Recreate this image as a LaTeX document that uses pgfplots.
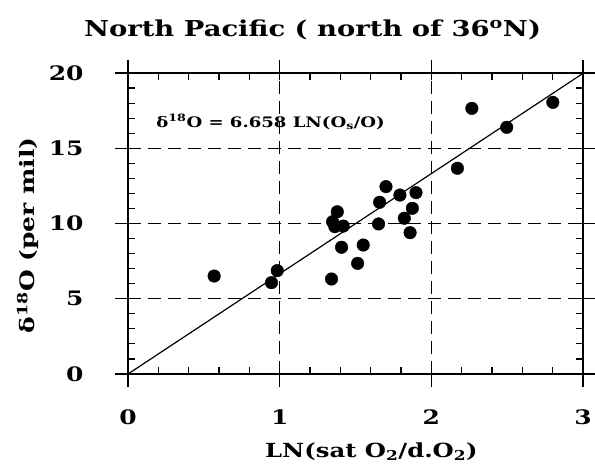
\documentclass[border=0pt]{standalone}
\usepackage{fontspec}
\setmainfont{DejaVu Serif}[BoldFont={DejaVu Serif Bold}, FakeStretch=1.25]
\usepackage{pgfplots}
\pgfplotsset{compat=1.18}

\begin{document}
\begin{tikzpicture}
\path[use as bounding box] (-128bp,-96bp) rectangle (467bp,374bp);
\begin{axis}[
    scale only axis,
    width=455bp, height=301bp,
    xmin=0, xmax=3, ymin=0, ymax=20,
    xtick={0,1,2,3}, ytick={0,5,10,15,20},
    minor x tick num=4, minor y tick num=4,
    tick align=inside,
    major tick length=7bp, minor tick length=7bp,
    every tick/.style={black, line width=1.2pt},
    extra x ticks={0,1,2,3}, extra y ticks={0,5,10,15,20},
    extra x tick labels={}, extra y tick labels={},
    extra tick style={tick align=outside, major tick length=13bp, grid=none},
    axis line style={line width=2pt},
    xmajorgrids, ymajorgrids,
    major grid style={black, line width=1.1pt, dash pattern=on 13bp off 7bp},
    tick label style={font=\bfseries\fontsize{20}{20}\selectfont},
    /pgf/number format/assume math mode=true,
    xticklabel style={yshift=-32bp},
    yticklabel style={xshift=-41bp},
    title={\bfseries\fontsize{22}{24}\selectfont North Pacific ( north of 36\textsuperscript{o}N)},
    title style={yshift=24bp, xshift=-43bp},
    xlabel={\bfseries\fontsize{19.5}{22}\selectfont LN(sat O\textsubscript{2}/d.O\textsubscript{2})},
    ylabel={\bfseries\fontsize{20}{22}\selectfont δ\textsuperscript{18}O (per mil)},
    xlabel style={at={(ticklabel cs:0.535)}},
    ylabel style={at={(ticklabel cs:0.46)}},
    xlabel shift=-2bp,
    ylabel shift=-10bp,
    clip=false,
]
% fitted line delta = 6.658 LN
\addplot[black, line width=1.2pt] coordinates {(0,0) (3,19.974)};
% observations
\addplot[only marks, mark=*, mark size=6.3bp, black] coordinates {
    (0.568,6.51) (0.946,6.07) (0.984,6.87)
    (1.342,6.31) (1.349,10.12) (1.380,10.78) (1.364,9.79) (1.419,9.83)
    (1.408,8.42) (1.514,7.35) (1.551,8.57)
    (1.652,9.97) (1.659,11.41) (1.701,12.45) (1.793,11.89)
    (1.899,12.05) (1.875,11.01) (1.822,10.35) (1.860,9.39)
    (2.172,13.67) (2.267,17.65) (2.497,16.39) (2.801,18.05)
};
\node[font=\bfseries\fontsize{14.5}{15}\selectfont] at (axis cs:0.94,16.75)
    {δ\textsuperscript{18}O = 6.658 LN(O\textsubscript{s}/O)};
\end{axis}
\end{tikzpicture}
\end{document}
